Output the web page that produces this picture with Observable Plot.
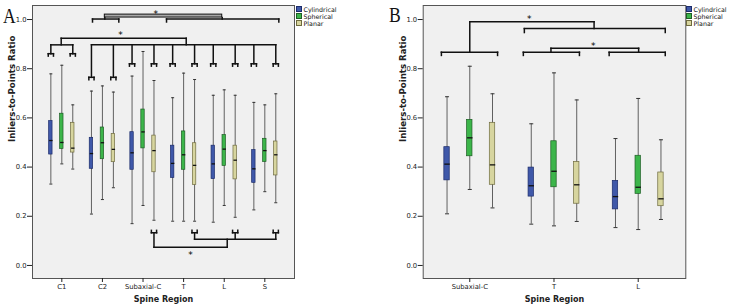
<!DOCTYPE html>
<html><head><meta charset="utf-8">
<script src="https://cdn.jsdelivr.net/npm/d3@7"></script>
<script src="https://cdn.jsdelivr.net/npm/@observablehq/plot@0.6"></script>
<style>
body{margin:0;background:#fff;}
#wrap{position:relative;width:732px;height:308px;overflow:hidden;font-family:"DejaVu Sans";}
.panel{position:absolute;top:0;}
.letter{position:absolute;font-family:"Liberation Serif";font-size:22px;line-height:1;color:#111;transform:scaleX(0.8);transform-origin:0 0;}
.leg{position:absolute;font-size:6.3px;color:#111;}
.leg div{height:7px;display:flex;align-items:center;white-space:nowrap;}
.sw{display:inline-block;width:4px;height:4px;border:0.7px solid;margin-right:1.5px;}
</style></head><body><div id="wrap"></div>
<script>
const types = ["Cylindrical","Spherical","Planar"];
const typeFill = ["#3f58a9","#3cb54a","#d7d59f"];
const typeStroke = ["#1c2c6b","#1d5e24","#6f6b3f"];
const yTicks = [0, 0.2, 0.4, 0.6, 0.8, 1.0];

// Panel A — [lower whisker, Q1, median, Q3, upper whisker]
const regionsA = ["C1","C2","Subaxial-C","T","L","S"];
const aCylindrical = [[0.331,0.451,0.508,0.587,0.779],[0.209,0.393,0.455,0.519,0.709],[0.170,0.389,0.458,0.542,0.770],[0.180,0.356,0.415,0.487,0.682],[0.176,0.351,0.413,0.487,0.692],[0.226,0.336,0.393,0.469,0.663]];
const aSpherical  = [[0.413,0.474,0.500,0.617,0.814],[0.268,0.432,0.499,0.561,0.730],[0.244,0.476,0.543,0.634,0.870],[0.180,0.389,0.450,0.545,0.782],[0.244,0.405,0.473,0.530,0.714],[0.300,0.421,0.467,0.515,0.653]];
const aPlanar     = [[0.392,0.459,0.477,0.580,0.653],[0.316,0.420,0.472,0.535,0.705],[0.184,0.379,0.467,0.528,0.752],[0.180,0.327,0.407,0.497,0.756],[0.196,0.350,0.428,0.487,0.692],[0.255,0.366,0.450,0.504,0.698]];

// Panel B
const regionsB = ["Subaxial-C","T","L"];
const bCylindrical = [[0.210,0.346,0.412,0.481,0.686],[0.168,0.280,0.324,0.398,0.576],[0.154,0.228,0.280,0.344,0.516]];
const bSpherical  = [[0.309,0.444,0.519,0.592,0.810],[0.161,0.318,0.383,0.505,0.783],[0.146,0.291,0.318,0.446,0.679]];
const bPlanar     = [[0.234,0.328,0.409,0.580,0.698],[0.179,0.251,0.328,0.421,0.673],[0.187,0.241,0.271,0.378,0.511]];

// significance brackets, in (region index, ratio) units: [x1, y1, x2, y2]
const aSegments = [
  [0.756,1.002,1.404,1.002],[0.756,1.002,0.756,0.990],[1.404,1.002,1.404,0.990],
  [2.579,1.002,5.345,1.002],[2.579,1.002,2.579,0.990],[5.345,1.002,5.345,0.990],
  [1.059,1.008,1.059,1.002],[3.951,1.008,3.951,1.002],
  [-0.015,0.924,3.064,0.924],[-0.015,0.924,-0.015,0.897],[3.064,0.924,3.064,0.897],
  [-0.27,0.897,0.27,0.897],[-0.27,0.897,-0.27,0.861],[0.27,0.897,0.27,0.861],
  [0.73,0.897,5.27,0.897],
  [0.73,0.897,0.73,0.765],[1.27,0.897,1.27,0.765],
  [1.73,0.897,1.73,0.82],[2.27,0.897,2.27,0.82],[2.73,0.897,2.73,0.82],[3.27,0.897,3.27,0.82],
  [3.73,0.897,3.73,0.82],[4.27,0.897,4.27,0.82],[4.73,0.897,4.73,0.82],[5.27,0.897,5.27,0.82],
  [2.27,0.133,2.27,0.074],[3.27,0.133,3.27,0.107],[4.27,0.133,4.27,0.107],[5.27,0.133,5.27,0.107],
  [3.27,0.107,5.27,0.107],[2.27,0.074,4.074,0.074],[4.074,0.107,4.074,0.074]
];
const aBars = [[1.059,3.951,1.008,1.020]];
const aForksDown = [[-0.27,0.861],[0.27,0.861],[0.73,0.765],[1.27,0.765],[1.73,0.82],[2.27,0.82],[2.73,0.82],[3.27,0.82],[3.73,0.82],[4.27,0.82],[4.73,0.82],[5.27,0.82]];
const aForksUp = [[2.27,0.133],[3.27,0.133],[4.27,0.133],[5.27,0.133]];
const aStars = [[2.315,1.034],[1.446,0.946],[3.17,0.054]];

const bSegments = [
  [0,0.991,1.476,0.991],[0,0.991,0,0.867],
  [-0.337,0.867,0.330,0.867],[-0.337,0.867,-0.337,0.854],[0.330,0.867,0.330,0.854],
  [1.476,0.991,1.476,0.963],
  [0.648,0.963,2.321,0.963],[0.648,0.963,0.648,0.947],[2.321,0.963,2.321,0.947],
  [0.964,0.883,2.005,0.883],[0.964,0.883,0.964,0.867],[2.005,0.883,2.005,0.867],
  [0.636,0.867,1.302,0.867],[0.636,0.867,0.636,0.854],[1.302,0.867,1.302,0.854],
  [1.655,0.867,2.321,0.867],[1.655,0.867,1.655,0.854],[2.321,0.867,2.321,0.854]
];
const bStars = [[0.705,1.012],[1.466,0.904]];

const typeOffset = [-0.27, 0, 0.27];
const yDomain = [-0.053, 1.057];

function panel({regions, series, xDomain, marginLeft, marginRight, boxPx, capPx, segments, bars = [], forksDown = [], forksUp = [], stars}) {
  const W = 366, H = 308, mt = 5, mb = 30;
  const ux = (xDomain[1] - xDomain[0]) / (W - marginLeft - marginRight);
  const uy = (yDomain[1] - yDomain[0]) / (H - mt - mb);
  const rows = [];
  series.forEach((s, k) => s.forEach((v, g) => rows.push({k, x: g + typeOffset[k], lo: v[0], q1: v[1], med: v[2], q3: v[3], hi: v[4]})));
  const hw = boxPx / 2 * ux, cw = capPx / 2 * ux;
  const forkSegs = [];
  const fw = 2.6 * ux, fl = 2.4 * uy;
  forksDown.forEach(([x, y]) => {
    forkSegs.push([x - fw, y, x + fw, y], [x - fw, y, x - fw, y - fl], [x + fw, y, x + fw, y - fl]);
  });
  forksUp.forEach(([x, y]) => {
    forkSegs.push([x - fw, y, x + fw, y], [x - fw, y, x - fw, y + fl], [x + fw, y, x + fw, y + fl]);
  });
  return Plot.plot({
    width: W, height: H, marginLeft, marginRight, marginTop: mt, marginBottom: mb,
    x: {type: "linear", domain: xDomain},
    y: {domain: yDomain},
    style: {fontFamily: "DejaVu Sans", fontSize: "6.8px", color: "#222", background: "transparent"},
    marks: [
      Plot.frame({fill: "#f0f0f0", stroke: null}),
      Plot.ruleX(rows, {x: "x", y1: "lo", y2: "hi", stroke: "#606060", strokeWidth: 1}),
      Plot.link(rows, {x1: d => d.x - cw, x2: d => d.x + cw, y1: "lo", y2: "lo", stroke: "#333", strokeWidth: 1}),
      Plot.link(rows, {x1: d => d.x - cw, x2: d => d.x + cw, y1: "hi", y2: "hi", stroke: "#333", strokeWidth: 1}),
      Plot.rect(rows, {x1: d => d.x - hw, x2: d => d.x + hw, y1: "q1", y2: "q3", fill: d => typeFill[d.k], stroke: d => typeStroke[d.k], strokeWidth: 0.7}),
      Plot.link(rows, {x1: d => d.x - hw, x2: d => d.x + hw, y1: "med", y2: "med", stroke: "#111", strokeWidth: 1.3}),
      Plot.rect(bars, {x1: d => d[0], x2: d => d[1], y1: d => d[2], y2: d => d[3], fill: "#a8a8a8", stroke: "#111", strokeWidth: 1}),
      Plot.link(segments.concat(forkSegs), {x1: d => d[0], y1: d => d[1], x2: d => d[2], y2: d => d[3], stroke: "#111", strokeWidth: 1.5, strokeLinecap: "square"}),
      Plot.text(stars, {x: d => d[0], y: d => d[1], text: () => "*", fontSize: 9, dy: 2.5, fill: "#000"}),
      Plot.frame({stroke: "#555", strokeWidth: 1}),
      Plot.axisY({ticks: yTicks, tickFormat: d3.format(".1f"), tickSize: 5, tickPadding: 1, label: null}),
      Plot.axisX({ticks: regions.map((_, i) => i), tickFormat: i => regions[i], tickSize: 4, tickPadding: 2, label: null}),
      Plot.text(["Inliers-to-Points Ratio"], {text: d => d, frameAnchor: "left", rotate: -90, dx: -20, fontWeight: "bold", fontSize: 8.6, fill: "#222"}),
      Plot.text(["Spine Region"], {text: d => d, frameAnchor: "bottom", dy: 23, fontWeight: "bold", fontSize: 8, fill: "#222"})
    ]
  });
}

const wrap = document.getElementById("wrap");
const svgA = panel({regions: regionsA, series: [aCylindrical, aSpherical, aPlanar], xDomain: [-0.722, 5.731],
  marginLeft: 32, marginRight: 72, boxPx: 3.4, capPx: 3, segments: aSegments, bars: aBars,
  forksDown: aForksDown, forksUp: aForksUp, stars: aStars});
svgA.classList.add("panel"); svgA.style.left = "0px";
wrap.appendChild(svgA);
const svgB = panel({regions: regionsB, series: [bCylindrical, bSpherical, bPlanar], xDomain: [-0.553, 2.565],
  marginLeft: 56.7, marginRight: 46.7, boxPx: 5.4, capPx: 4, segments: bSegments, stars: bStars});
svgB.classList.add("panel"); svgB.style.left = "366px";
wrap.appendChild(svgB);

function addLetter(t, left, top) {
  const d = document.createElement("div");
  d.className = "letter"; d.textContent = t;
  d.style.left = left + "px"; d.style.top = top + "px";
  wrap.appendChild(d);
}
addLetter("A", 2.5, 4.9);
addLetter("B", 389, 3.6);

function addLegend(left, top) {
  const g = document.createElement("div");
  g.className = "leg"; g.style.left = left + "px"; g.style.top = top + "px";
  types.forEach((t, k) => {
    const r = document.createElement("div");
    const s = document.createElement("span");
    s.className = "sw"; s.style.background = typeFill[k]; s.style.borderColor = typeStroke[k];
    r.appendChild(s);
    r.appendChild(document.createTextNode(t));
    g.appendChild(r);
  });
  wrap.appendChild(g);
}
addLegend(296, 5.5);
addLegend(686, 5.5);
</script></body></html>
